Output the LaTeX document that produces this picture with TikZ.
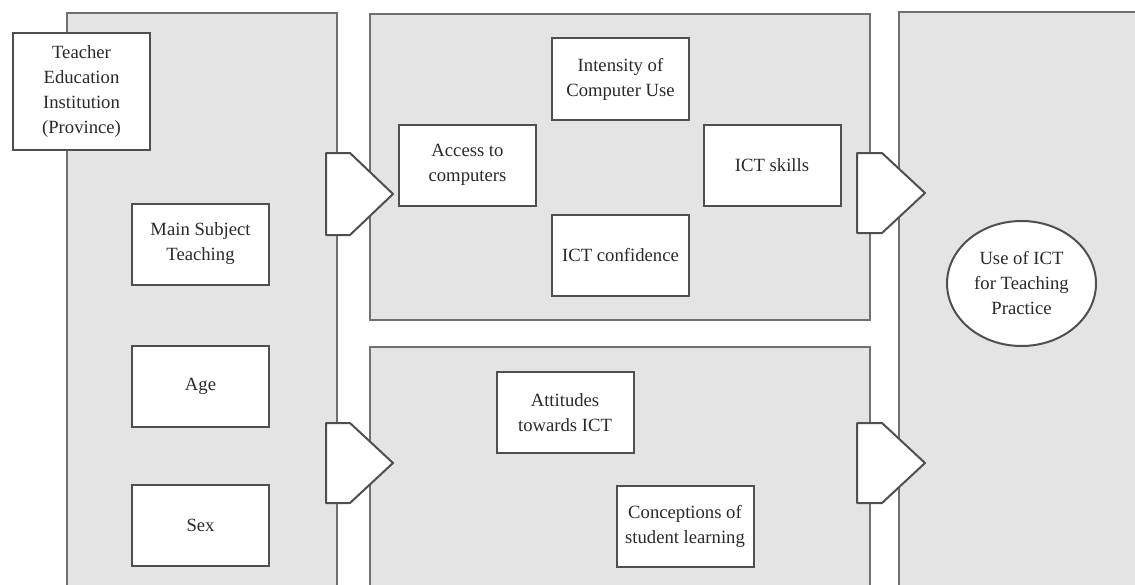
\documentclass[tikz,border=0pt]{standalone}
\usepackage{fontspec}
\setmainfont{Liberation Serif}
\usetikzlibrary{shapes.geometric}
\definecolor{IctInk}{HTML}{2A2A2A}
\definecolor{IctLine}{HTML}{4F4F4F}
\definecolor{IctFrame}{HTML}{707070}
\definecolor{IctPanel}{HTML}{E4E4E4}
\tikzset{
  ict text/.style={font=\fontsize{14}{18.75}\selectfont, text=IctInk, align=center},
  ict panel/.style={draw=IctFrame, fill=IctPanel, line width=1.7pt},
  ict box/.style={ict text, draw=IctLine, fill=white, line width=1.5pt,
    minimum width=102.75pt, minimum height=60.75pt, inner sep=2pt},
  ict gate/.style={draw=IctLine, fill=white, line width=1.5pt, line join=round},
  ict outcome/.style={ict text, ellipse, draw=IctLine, fill=white, line width=1.5pt,
    minimum width=111.75pt, minimum height=93.75pt, inner sep=0pt},
}

\begin{document}
\begin{tikzpicture}[x=.75pt,y=-.75pt]
  \clip (0,0) rectangle (1135,585);

  % Columns: background variables, the two mediating blocks, the outcome.
  \draw[ict panel] (67,13) rectangle (337,600);
  \draw[ict panel] (370,14) rectangle (870,320);
  \draw[ict panel] (370,347) rectangle (870,600);
  \draw[ict panel] (899,12) rectangle (1150,600);

  % Background variables
  \node[ict box, minimum height=87.75pt] (inst) at (81.5,91.5)
    {Teacher\\Education\\Institution\\(Province)};
  \node[ict box] (subject) at (200.5,244) {Main Subject\\Teaching};
  \node[ict box] (age) at (200.5,386.5) {Age};
  \node[ict box] (sex) at (200.5,525) {Sex};

  % Computer use block
  \node[ict box] (intensity) at (620.5,79) {Intensity of\\Computer Use};
  \node[ict box] (access) at (467.5,165) {Access to\\computers};
  \node[ict box] (skills) at (772,165) {ICT skills};
  \node[ict box] (confidence) at (620.5,255) {ICT confidence};

  % Beliefs block
  \node[ict box] (attitudes) at (565,412.5) {Attitudes\\towards ICT};
  \node[ict box] (conceptions) at (685,526.5) {Conceptions of\\student learning};

  % Outcome
  \node[ict outcome] (use) at (1021.5,283.5) {Use of ICT\\for Teaching\\Practice};

  % Block arrows between the columns
  \draw[ict gate] (326,153) -- (350,153) -- (393,194) -- (350,235) -- (326,235) -- cycle;
  \draw[ict gate] (326,423) -- (350,423) -- (393,463) -- (350,503) -- (326,503) -- cycle;
  \draw[ict gate] (857,153) -- (882,153) -- (925,193) -- (882,233) -- (857,233) -- cycle;
  \draw[ict gate] (857,423) -- (882,423) -- (925,463) -- (882,503) -- (857,503) -- cycle;
\end{tikzpicture}
\end{document}
